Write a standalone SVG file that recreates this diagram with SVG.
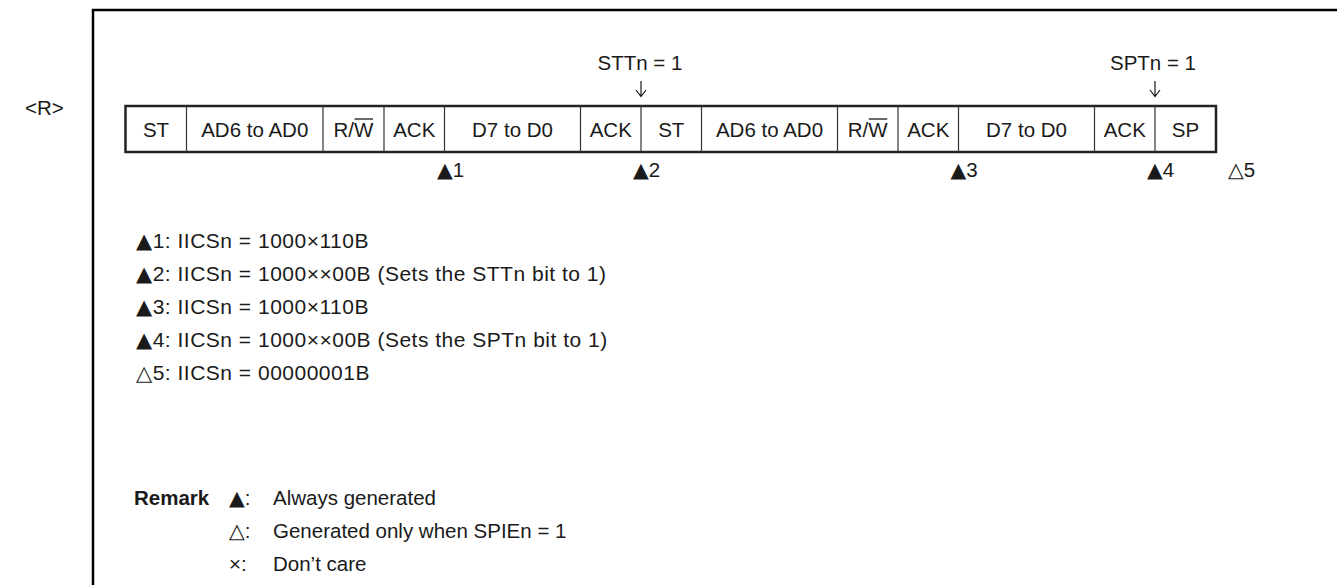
<svg xmlns="http://www.w3.org/2000/svg" width="1337" height="585" viewBox="0 0 1337 585">
<style>
text{font-family:"Liberation Sans","DejaVu Sans",Arial,sans-serif;font-size:20.5px;fill:#1a1a1a}
.c{text-anchor:middle}
.b{font-weight:bold}
.t{font-family:"DejaVu Sans",sans-serif}
.n{font-size:21px;letter-spacing:0.5px}
.frame{fill:none;stroke:#000;stroke-width:2.5}
.bar{fill:#fff;stroke:#222;stroke-width:2.5}
.div{stroke:#333;stroke-width:1.2}
.arr{fill:none;stroke:#1a1a1a;stroke-width:1.2}
.ov{stroke:#1a1a1a;stroke-width:1.3}
</style>
<rect width="1337" height="585" fill="#fff"/>
<g id="frame">
<polyline class="frame" points="93,585 93,10 1337,10"/>
</g>
<text id="rev" x="25" y="115">&lt;R&gt;</text>
<g id="bar">
<rect class="bar" x="125.5" y="106" width="1090.5" height="46"/>
<line class="div" x1="186.5" y1="106" x2="186.5" y2="152"/>
<line class="div" x1="323" y1="106" x2="323" y2="152"/>
<line class="div" x1="384" y1="106" x2="384" y2="152"/>
<line class="div" x1="444.5" y1="106" x2="444.5" y2="152"/>
<line class="div" x1="580.5" y1="106" x2="580.5" y2="152"/>
<line class="div" x1="641" y1="106" x2="641" y2="152"/>
<line class="div" x1="701.5" y1="106" x2="701.5" y2="152"/>
<line class="div" x1="837.5" y1="106" x2="837.5" y2="152"/>
<line class="div" x1="898" y1="106" x2="898" y2="152"/>
<line class="div" x1="958.5" y1="106" x2="958.5" y2="152"/>
<line class="div" x1="1094.5" y1="106" x2="1094.5" y2="152"/>
<line class="div" x1="1155" y1="106" x2="1155" y2="152"/>
<g id="labels">
<text class="c" x="156" y="137">ST</text>
<text class="c" x="254.75" y="137">AD6 to AD0</text>
<text class="c" x="353.5" y="137">R/W</text>
<line class="ov" x1="354.5" y1="119" x2="373" y2="119"/>
<text class="c" x="414.25" y="137">ACK</text>
<text class="c" x="512.5" y="137">D7 to D0</text>
<text class="c" x="610.75" y="137">ACK</text>
<text class="c" x="671.25" y="137">ST</text>
<text class="c" x="769.5" y="137">AD6 to AD0</text>
<text class="c" x="867.75" y="137">R/W</text>
<line class="ov" x1="868.75" y1="119" x2="887.25" y2="119"/>
<text class="c" x="928.25" y="137">ACK</text>
<text class="c" x="1026.5" y="137">D7 to D0</text>
<text class="c" x="1124.75" y="137">ACK</text>
<text class="c" x="1185.5" y="137">SP</text>
</g>
</g>
<g id="connectors">
<path class="arr" d="M641,81 V96 M636,90 L641,96.5 L646,90"/>
<path class="arr" d="M1155,81 V96 M1150,90 L1155,96.5 L1160,90"/>
</g>
<g id="stt">
<text class="c" x="640" y="70">STTn = 1</text>
</g>
<g id="spt">
<text class="c" x="1153" y="70">SPTn = 1</text>
</g>
<g id="markers">
<text x="437" y="177"><tspan class="t">▲</tspan>1</text>
<text x="633" y="177"><tspan class="t">▲</tspan>2</text>
<text x="950.5" y="177"><tspan class="t">▲</tspan>3</text>
<text x="1147" y="177"><tspan class="t">▲</tspan>4</text>
<text x="1228" y="177"><tspan class="t">△</tspan>5</text>
</g>
<g id="notes">
<text class="n" x="136" y="248"><tspan class="t">▲</tspan>1: IICSn = 1000×110B</text>
<text class="n" x="136" y="281"><tspan class="t">▲</tspan>2: IICSn = 1000××00B (Sets the STTn bit to 1)</text>
<text class="n" x="136" y="314"><tspan class="t">▲</tspan>3: IICSn = 1000×110B</text>
<text class="n" x="136" y="347"><tspan class="t">▲</tspan>4: IICSn = 1000××00B (Sets the SPTn bit to 1)</text>
<text class="n" x="136" y="380"><tspan class="t">△</tspan>5: IICSn = 00000001B</text>
</g>
<g id="remark">
<text class="b" x="134" y="505">Remark</text>
<text x="229" y="505"><tspan class="t">▲</tspan>:</text>
<text x="273" y="505">Always generated</text>
<text x="229" y="538"><tspan class="t">△</tspan>:</text>
<text x="273" y="538">Generated only when SPIEn = 1</text>
<text x="229" y="571">×:</text>
<text x="273" y="571">Don’t care</text>
</g>
</svg>
